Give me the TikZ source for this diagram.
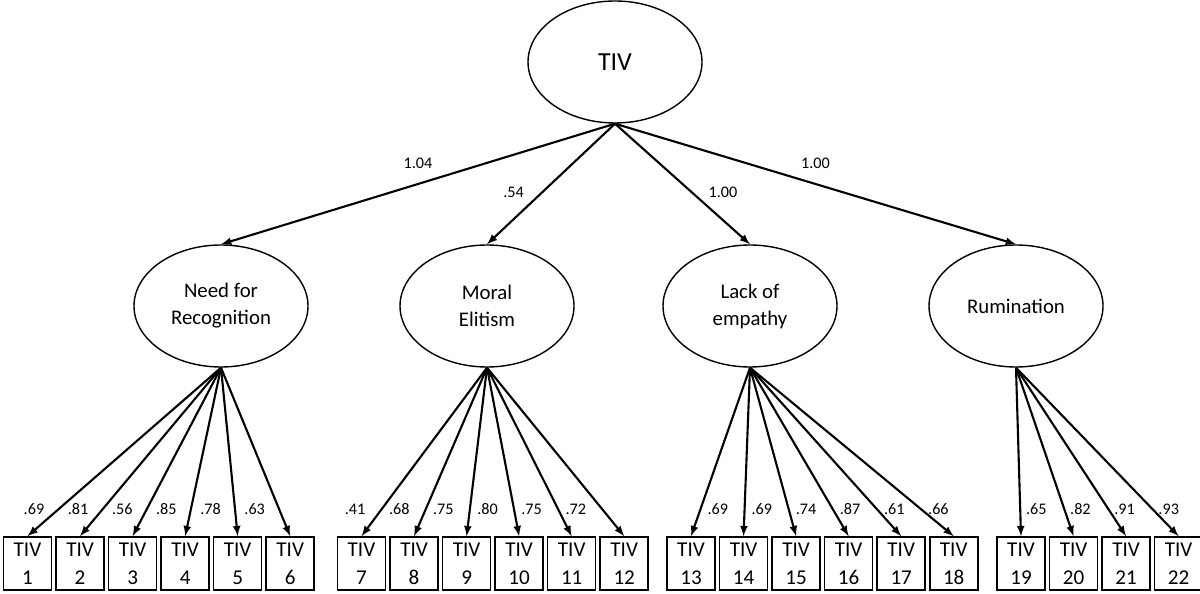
\documentclass[tikz,border=0pt]{standalone}
\usepackage{fontspec}
\setmainfont{Carlito}
\usepackage{tikz}
\usetikzlibrary{arrows}
\usetikzlibrary{positioning}
\usetikzlibrary{shapes.geometric}

\begin{document}
\begin{tikzpicture}[
    latent/.style={draw,line width=1pt,ellipse,minimum width=4.35cm,minimum height=3.05cm,inner sep=0pt,align=center,font=\fontsize{14.8}{19.2}\selectfont},
    indic/.style={draw,line width=1.1pt,minimum width=1.2cm,minimum height=1.325cm,inner sep=0pt,align=center,font=\fontsize{15}{20}\selectfont},
    load/.style={line width=1.5pt,-latex},
    coef/.style={inner sep=0pt,font=\fontsize{11.5}{13}\selectfont}]
    \useasboundingbox (0,0) rectangle (30,-14.85);
    % second order factor
    \node[latent,font=\fontsize{18.5}{22}\selectfont] (tiv) at (15.375,-1.55) {TIV};
    % first order factors
    \node[latent] (nfr) at (5.525,-7.65) {Need for\\Recognition};
    \node[latent] (me) at (12.175,-7.65) {Moral\\Elitism};
    \node[latent] (le) at (18.75,-7.65) {Lack of\\empathy};
    \node[latent] (rum) at (25.4,-7.65) {Rumination};
    \draw[load] (tiv.south) -- node[coef,pos=.5,above=0.35cm] {1.04} (nfr.north);
    \draw[load] (tiv.south) -- node[coef,pos=.57,left=0.43cm] {.54} (me.north);
    \draw[load] (tiv.south) -- node[coef,pos=.57,right=0.39cm] {1.00} (le.north);
    \draw[load] (tiv.south) -- node[coef,pos=.5,above=0.35cm] {1.00} (rum.north);
    % items
    \node[indic] (t1) at (0.6875,-14.0875) {TIV\\1};
    \node[indic] (t7) at (9.0375,-14.0875) {TIV\\7};
    \node[indic] (t13) at (17.275,-14.0875) {TIV\\13};
    \node[indic] (t19) at (25.525,-14.0875) {TIV\\19};
    \foreach \i [count=\j from 1] in {2,...,6}
      \node[indic,right=0.075cm of t\j] (t\i) {TIV\\\i};
    \foreach \i [count=\j from 7] in {8,...,12}
      \node[indic,right=0.075cm of t\j] (t\i) {TIV\\\i};
    \foreach \i [count=\j from 13] in {14,...,18}
      \node[indic,right=0.075cm of t\j] (t\i) {TIV\\\i};
    \foreach \i [count=\j from 19] in {20,...,22}
      \node[indic,right=0.075cm of t\j] (t\i) {TIV\\\i};
    % factor loadings
    \foreach \i/\c in {1/.69,2/.81,3/.56,4/.85,5/.78,6/.63}
      \draw[load] (nfr.south) -- node[coef,pos=.84,left=0.33cm] {\c} (t\i.north);
    \foreach \i/\c in {7/.41,8/.68,9/.75,10/.80,11/.75,12/.72}
      \draw[load] (me.south) -- node[coef,pos=.84,left=0.38cm] {\c} (t\i.north);
    \foreach \i/\c in {13/.69,14/.69,15/.74,16/.87,17/.61,18/.66}
      \draw[load] (le.south) -- node[coef,pos=.84,right=0.15cm] {\c} (t\i.north);
    \foreach \i/\c in {19/.65,20/.82,21/.91,22/.93}
      \draw[load] (rum.south) -- node[coef,pos=.84,right=0.12cm] {\c} (t\i.north);
\end{tikzpicture}
\end{document}
